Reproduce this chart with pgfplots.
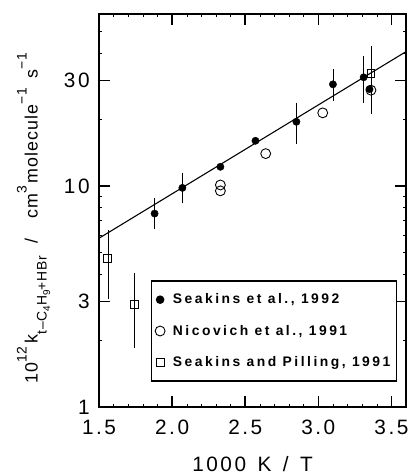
\documentclass[border=0pt]{standalone}
\usepackage{fontspec}
\setmainfont{Liberation Sans}
\newfontfamily\legfont{Liberation Sans}[LetterSpace=18]
\newfontfamily\tickfont{Liberation Sans}[LetterSpace=12]
\newfontfamily\labfont{Liberation Sans}[LetterSpace=6]
\usepackage{pgfplots}
\pgfplotsset{compat=1.18}

\newcommand{\up}[1]{\raisebox{0.62em}{\fontsize{14}{14}\selectfont #1}}
\newcommand{\dn}[1]{\raisebox{-0.5em}{\fontsize{14}{14}\selectfont #1}}
\newcommand{\ddn}[1]{\raisebox{-0.25em}{\fontsize{10}{10}\selectfont #1}}

\begin{document}
\begin{tikzpicture}
\begin{axis}[
    name=ax,
    scale only axis,
    width=310pt, height=397pt,
    ymode=log,
    xmin=1.5, xmax=3.6, ymin=1, ymax=60,
    xtick={1.5,2.0,2.5,3.0,3.5},
    minor x tick num=4,
    ytick={1,3,10,30}, yticklabels={1,3,10,30},
    minor ytick={2,4,5,6,7,8,9,20,40,50,60},
    /pgf/number format/assume math mode=true,
    xticklabel style={/pgf/number format/fixed, /pgf/number format/fixed zerofill,
      /pgf/number format/precision=1, font=\tickfont\fontsize{21}{24}\selectfont, yshift=-10pt},
    yticklabel style={font=\tickfont\fontsize{21}{24}\selectfont, xshift=-6pt},
    tick align=inside,
    major tick length=11pt, minor tick length=3pt,
    every major tick/.append style={line width=1.6pt, black},
    every minor tick/.append style={line width=0.5pt, black},
    axis line style={line width=1.6pt},
    xlabel={1000\hspace{0.55em}K\hspace{0.55em}/\hspace{0.55em}T},
    xlabel style={font=\tickfont\fontsize{21}{24}\selectfont,
      at={(axis description cs:0.5,-0.145)}, anchor=center},
    ylabel={10\up{12}\,k\dn{t\textendash C\ddn{4}H\ddn{9}+HBr}\hspace{0.7em}/\hspace{1.1em}cm\up{3}\,molecule\up{\textminus1}\hspace{0.5em}s\up{\textminus1}},
    ylabel style={font=\labfont\fontsize{18}{22}\selectfont,
      at={(axis description cs:-0.2,0.48)}, anchor=base},
    legend style={at={(rel axis cs:0.168,0.322)}, anchor=north west,
      draw=black, line width=1.2pt, font=\legfont\bfseries\fontsize{14}{16}\selectfont,
      row sep=16pt, inner xsep=4pt, inner ysep=11pt, cells={anchor=west}},
    legend cell align=left,
    clip=false,
  ]
  % fitted line
  \addplot[black, line width=1.1pt, forget plot] coordinates {(1.5,5.8) (3.6,40.5)};
  % Seakins et al., 1992
  \addplot[only marks, mark=*, mark size=3.7pt, black, forget plot,
    error bars/.cd, y dir=both, y explicit,
    error bar style={line width=0.7pt},
    error mark options={mark size=3pt, line width=0.7pt}]
    coordinates {
      (1.88,7.5) += (0,1.07) -= (0,0.94)
      (2.07,9.8) += (0,1.3) -= (0,1.2)
      (2.33,12.2) += (0,0) -= (0,0)
      (2.57,16.0) += (0,0) -= (0,0)
      (2.85,19.5) += (0,3.5) -= (0,3.5)
      (3.10,28.8) += (0,3.8) -= (0,3.8)
      (3.31,31.0) += (0,6.7) -= (0,6.5)
      (3.35,27.4) += (0,0) -= (0,0)
    };
  % Nicovich et al., 1991
  \addplot[only marks, mark=o, mark size=5pt, line width=0.9pt, black, forget plot]
    coordinates {(2.33,10.1) (2.33,9.5) (2.64,14.0) (3.03,21.4) (3.36,27.1)};
  % Seakins and Pilling, 1991
  \addplot[only marks, mark=square, mark size=4pt, line width=0.9pt, black, forget plot,
    error bars/.cd, y dir=both, y explicit,
    error bar style={line width=0.6pt},
    error mark options={mark size=3pt, line width=0.6pt}]
    coordinates {
      (1.56,4.72) += (0,1.4) -= (0,1.53)
      (1.74,2.91) += (0,1.01) -= (0,1.0)
      (3.36,32.3) += (0,9.4) -= (0,10.5)
    };
  \addlegendimage{only marks, mark=*, mark size=3.7pt, black}
  \addlegendentry{\hspace{6pt}Seakins et al., 1992}
  \addlegendimage{only marks, mark=o, mark size=5pt, line width=0.9pt, black}
  \addlegendentry{\hspace{6pt}Nicovich et al., 1991}
  \addlegendimage{only marks, mark=square, mark size=4pt, line width=0.9pt, black}
  \addlegendentry{\hspace{6pt}Seakins and Pilling, 1991}
  \coordinate (bl) at (rel axis cs:0,0);
  \coordinate (tr) at (rel axis cs:1,1);
\end{axis}
\path ([shift={(-100pt,-64pt)}]bl) rectangle ([shift={(5pt,14pt)}]tr);
\end{tikzpicture}
\end{document}
